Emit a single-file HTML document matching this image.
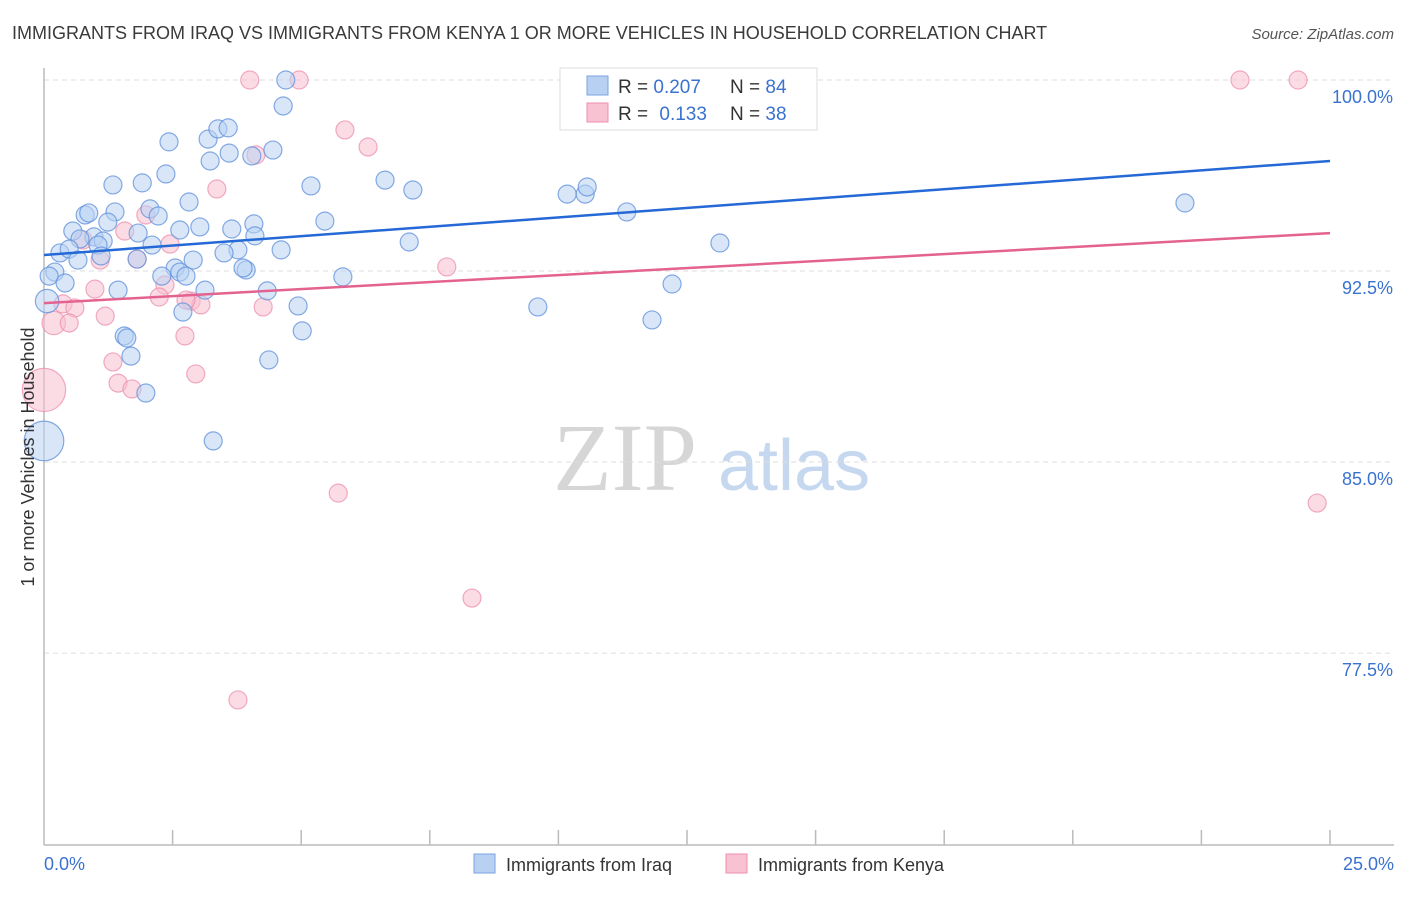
<!DOCTYPE html>
<html><head><meta charset="utf-8"><style>
body{margin:0;background:#fff;width:1406px;height:892px;overflow:hidden;font-family:"Liberation Sans",sans-serif}
</style></head><body>
<svg id="chart" width="1406" height="892" xmlns="http://www.w3.org/2000/svg" font-family="Liberation Sans, sans-serif">
<text x="12" y="39" font-size="18" fill="#3a3a3a">IMMIGRANTS FROM IRAQ VS IMMIGRANTS FROM KENYA 1 OR MORE VEHICLES IN HOUSEHOLD CORRELATION CHART</text>
<text x="1394" y="39" font-size="15" fill="#555" font-style="italic" text-anchor="end">Source: ZipAtlas.com</text>
<g>
<text x="553" y="490" font-size="96" font-family="Liberation Serif, serif" fill="#d6d6d6">ZIP</text>
<text x="718" y="490" font-size="72" fill="#c6d8f0">atlas</text>
</g>
<g id="grid"></g>
<g id="axes"></g>
<g id="pts"></g>
<g id="trends"></g>
<text transform="translate(34,457) rotate(-90)" font-size="18" fill="#333" text-anchor="middle">1 or more Vehicles in Household</text>
<g>
<rect x="560" y="68" width="257" height="62" fill="#fff" stroke="#ddd"/>
<rect x="587" y="76" width="21" height="19" fill="#b8d1f3" stroke="#7aa3e0"/>
<rect x="587" y="103" width="21" height="19" fill="#f9c2d3" stroke="#ee8fae"/>
<text x="618" y="93" font-size="19" fill="#333">R = <tspan fill="#3a72d0">0.207</tspan></text>
<text x="730" y="93" font-size="19" fill="#333">N = <tspan fill="#3a72d0">84</tspan></text>
<text x="618" y="120" font-size="19" fill="#333">R = <tspan fill="#3a72d0" dx="6">0.133</tspan></text>
<text x="730" y="120" font-size="19" fill="#333">N = <tspan fill="#3a72d0">38</tspan></text>
</g>
<g>
<rect x="474" y="854" width="21" height="19" fill="#b8d1f3" stroke="#7aa3e0"/>
<text x="506" y="871" font-size="18" fill="#333">Immigrants from Iraq</text>
<rect x="726" y="854" width="21" height="19" fill="#f9c2d3" stroke="#ee8fae"/>
<text x="758" y="871" font-size="18" fill="#333">Immigrants from Kenya</text>
</g>
</svg>
<script>
const iraqX=[4.70,14.09,4.65,2.43,3.19,3.38,3.58,2.37,1.34,1.91,3.23,3.60,4.04,4.45,5.19,6.63,7.17,10.17,10.52,10.56,11.33,22.18,2.82,2.06,2.22,1.38,0.80,0.87,1.24,5.46,4.08,3.03,2.64,3.65,1.83,0.56,0.97,1.15,0.70,1.05,2.10,4.10,3.77,4.61,7.10,13.14,0.31,0.49,1.11,1.81,2.90,3.50,0.66,0.21,0.10,0.41,0.06,2.55,2.64,2.29,2.76,3.13,1.44,3.93,3.87,4.34,5.81,12.21,4.94,9.60,2.70,11.82,5.02,1.56,1.61,1.69,4.37,1.98,3.29,0.0];
const iraqY=[100,100,98.98,97.57,97.68,98.08,98.12,96.31,95.88,95.96,96.82,97.13,97.02,97.25,95.84,96.07,95.68,95.52,95.52,95.80,94.82,95.17,95.21,94.94,94.66,94.82,94.70,94.78,94.42,94.46,94.35,94.23,94.11,94.15,93.99,94.07,93.84,93.68,93.76,93.52,93.52,93.88,93.33,93.33,93.64,93.60,93.21,93.36,93.09,92.97,92.93,93.21,92.93,92.46,92.30,92.03,91.32,92.62,92.46,92.30,92.30,91.75,91.75,92.54,92.62,91.72,92.27,91.99,91.13,91.09,90.89,90.58,90.15,89.95,89.87,89.16,89.01,87.71,85.83,85.83];
const iraqSize=iraqX.map((v,i)=> i===iraqX.length-1?2.2:(i===56?1.3:1));
const kenyaX=[4.00,4.96,23.25,24.38,5.85,6.30,4.12,3.36,1.98,1.57,2.45,1.09,1.81,0.76,7.83,2.35,0.99,2.24,0.37,0.60,2.86,3.05,2.76,1.19,4.26,0.19,0.49,2.74,1.34,2.95,1.44,1.71,0,5.72,8.32,3.77,24.75];
const kenyaY=[100,100,100,100,98.04,97.37,97.06,95.72,94.70,94.07,93.56,92.93,92.97,93.72,92.66,91.95,91.79,91.48,91.21,91.05,91.32,91.17,91.36,90.73,91.09,90.46,90.46,89.95,88.93,88.46,88.10,87.87,87.83,83.78,79.66,75.66,83.39];
const kenyaSize=kenyaX.map((v,i)=> i===32?2.4:(i===25?1.3:1));
const yTicks=[100,92.5,85,77.5];
const yTickLabels=["100.0%","92.5%","85.0%","77.5%"];
const xTickLabels=["0.0%","25.0%"];
const trendIraq=[93.13,96.82];
const trendKenya=[91.24,93.99];

const NS="http://www.w3.org/2000/svg";
const X=v=>44+v*51.44, Y=v=>80+(100-v)*25.47;
function mk(tag,attrs,parent){const e=document.createElementNS(NS,tag);for(const k in attrs)e.setAttribute(k,attrs[k]);parent.appendChild(e);return e;}
const grid=document.getElementById('grid'),axes=document.getElementById('axes'),pts=document.getElementById('pts'),tr=document.getElementById('trends');
yTicks.forEach((t,i)=>{
 const l=mk('line',{x1:44,x2:1394,y1:Y(t),y2:Y(t),stroke:'#ddd','stroke-dasharray':'5,4'},grid);
 
 
 const tx=mk('text',{x:1393,y:Y(t)+23,'font-size':18,fill:'#3a72d0','text-anchor':'end'},grid);
 tx.textContent=yTickLabels[i];
 
 
});
const ax=mk('line',{x1:44,x2:44,y1:68,y2:845,stroke:'#bbb','stroke-width':1.5},axes);


const bx=mk('line',{x1:44,x2:1394,y1:845,y2:845,stroke:'#bbb','stroke-width':1.5},axes);


for(let k=1;k<=10;k++){const tk=mk('line',{x1:X(k*2.5),x2:X(k*2.5),y1:830,y2:845,stroke:'#bbb','stroke-width':1.5},axes);
 
 }
[[0,'start',44],[1,'end',1394]].forEach(([i,a,x])=>{const t=mk('text',{x:x,y:870,'font-size':18,fill:'#3a72d0','text-anchor':a},axes);t.textContent=xTickLabels[i];
 
 });
function series(xs,ys,sz,fill,stroke,name){xs.forEach((x,i)=>{const c=mk('circle',{cx:X(x),cy:Y(ys[i]),r:9*sz[i],fill:fill,'fill-opacity':0.55,stroke:stroke,'stroke-opacity':0.75,'stroke-width':1.2},pts);
 
 });}
series(kenyaX,kenyaY,kenyaSize,'#f7bfd0','#ec8fae','point-kenya');
series(iraqX,iraqY,iraqSize,'#b8d1f3','#5d8fdb','point-iraq');
const t1=mk('line',{x1:X(0),y1:Y(trendIraq[0]),x2:X(25),y2:Y(trendIraq[1]),stroke:'#2469d6','stroke-width':2.5},tr);


const t2=mk('line',{x1:X(0),y1:Y(trendKenya[0]),x2:X(25),y2:Y(trendKenya[1]),stroke:'#e4628f','stroke-width':2.5},tr);


</script>
</body></html>
